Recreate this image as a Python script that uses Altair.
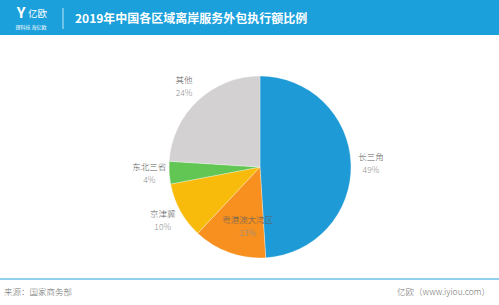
import altair as alt
import pandas as pd

categories = ["长三角", "粤港澳大湾区", "京津冀", "东北三省", "其他"]
values = [49, 13, 10, 4, 24]
pct_labels = ["49%", "13%", "10%", "4%", "24%"]
colors = ["#1e9bd7", "#f7901e", "#f8bb0b", "#62c654", "#d3d1d1"]

title_text = "2019年中国各区域离岸服务外包执行额比例"
source_text = "来源：国家商务部"
brand_text = "亿欧（www.iyiou.com）"

FONT = "Noto Sans CJK SC"
CX, CY, R = 260, 167, 91

df = pd.DataFrame({
    "category": categories,
    "value": values,
    "pct": pct_labels,
    "order": list(range(len(categories))),
})

color_scale = alt.Scale(domain=categories, range=colors)
theta_scale = alt.Scale(domain=[0, 100])

base = alt.Chart(df)

pie = base.mark_arc(radius=R, stroke="white", strokeWidth=0.3).encode(
    theta=alt.Theta("value:Q", stack=True, scale=theta_scale),
    color=alt.Color("category:N", scale=color_scale, legend=None),
    order=alt.Order("order:Q"),
    x=alt.value(CX),
    y=alt.value(CY),
)

stacked = base.transform_stack(
    stack="value", groupby=[], as_=["v0", "v1"], sort=[alt.SortField("order")]
).transform_calculate(mid="(datum.v0 + datum.v1) / 2")

def label_layers(filter_expr, radius, dx=0, dy=0):
    src = stacked.transform_filter(filter_expr)
    enc = dict(
        theta=alt.Theta("mid:Q", scale=theta_scale),
        x=alt.value(CX),
        y=alt.value(CY),
    )
    name = src.mark_text(radius=radius, dx=dx, dy=dy - 6.5, font=FONT,
                         fontSize=8.5, fontWeight=300, color="#5e5e5e").encode(
        text="category:N", **enc)
    pct = src.mark_text(radius=radius, dx=dx, dy=dy + 6.5, font=FONT,
                        fontSize=8.5, fontWeight=300, color="#8f8f8f").encode(
        text="pct:N", **enc)
    return [name, pct]

outer = label_layers("datum.category != '粤港澳大湾区'", 111)
inner = label_layers("datum.category == '粤港澳大湾区'", 60, dx=8, dy=3)

one = alt.Data(values=[{}])

header = alt.Chart(one).mark_rect(color="#1ba0dc").encode(
    x=alt.value(0), x2=alt.value(499), y=alt.value(0), y2=alt.value(35))
sep = alt.Chart(one).mark_rule(color="white", opacity=0.75, strokeWidth=1).encode(
    x=alt.value(63), y=alt.value(8), y2=alt.value(29))
logo_y = alt.Chart(one).mark_text(text="Y", font=FONT, fontSize=15, fontWeight="bold",
                                  color="white", align="center", baseline="middle").encode(
    x=alt.value(21), y=alt.value(13))
logo_name = alt.Chart(one).mark_text(text="亿欧", font=FONT, fontSize=9.5,
                                     color="white", align="left", baseline="middle").encode(
    x=alt.value(28), y=alt.value(14))
logo_sub = alt.Chart(one).mark_text(text="理科技 海亿欧", font=FONT, fontSize=5,
                                    color="white", align="center", baseline="middle").encode(
    x=alt.value(31), y=alt.value(27))
title = alt.Chart(one).mark_text(text=title_text, font=FONT, fontSize=12, fontWeight="bold",
                                 color="white", align="left", baseline="middle").encode(
    x=alt.value(75), y=alt.value(19))
footer_line = alt.Chart(one).mark_rule(color="#6cc0e6", strokeWidth=1.5).encode(
    x=alt.value(0), x2=alt.value(499), y=alt.value(279))
src_txt = alt.Chart(one).mark_text(text=source_text, font=FONT, fontSize=8.5, fontWeight=300,
                                   color="#707070", align="left", baseline="middle").encode(
    x=alt.value(4), y=alt.value(292))
brand_txt = alt.Chart(one).mark_text(text=brand_text, font=FONT, fontSize=8.5, fontWeight=300,
                                     color="#707070", align="right", baseline="middle").encode(
    x=alt.value(490), y=alt.value(292))

chart = alt.layer(
    header, sep, logo_y, logo_name, logo_sub, title,
    pie, *outer, *inner,
    footer_line, src_txt, brand_txt,
).properties(
    width=499, height=305, padding=0,
    autosize=alt.AutoSizeParams(type="none"),
    background="white",
).configure_view(stroke=None)

chart.save("out.html", embed_options={"renderer": "svg", "actions": False})
